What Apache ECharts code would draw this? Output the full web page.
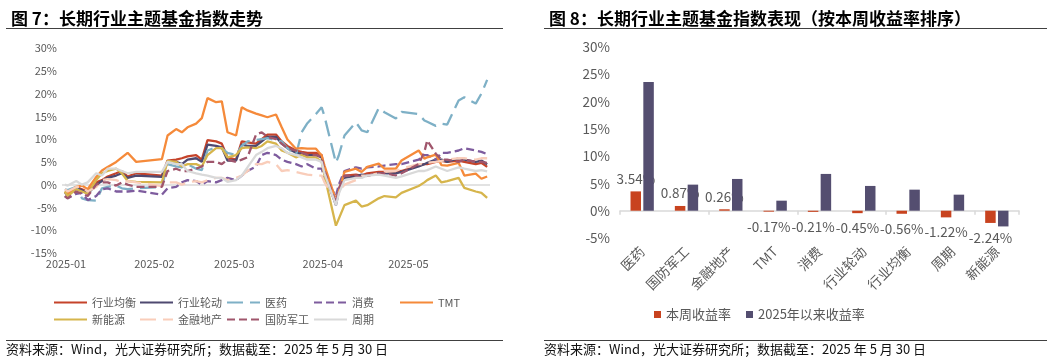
<!DOCTYPE html>
<html>
<head>
<meta charset="utf-8">
<script src="https://cdn.jsdelivr.net/npm/echarts@6/dist/echarts.min.js"></script>
<style>
html,body{margin:0;padding:0;background:#fff;}
#c{width:1055px;height:362px;}
</style>
</head>
<body>
<div id="c"></div>
<script>
// ---------- Figure 7 data ----------
const dates = [
'2025-01-02','2025-01-03','2025-01-06','2025-01-08','2025-01-10','2025-01-13','2025-01-15','2025-01-17','2025-01-20','2025-01-22','2025-01-24','2025-01-27',
'2025-02-05','2025-02-07','2025-02-10','2025-02-12','2025-02-14','2025-02-17','2025-02-19','2025-02-21','2025-02-24','2025-02-26','2025-02-28',
'2025-03-03','2025-03-05','2025-03-07','2025-03-10','2025-03-12','2025-03-14','2025-03-17','2025-03-19','2025-03-21','2025-03-24','2025-03-26','2025-03-28','2025-03-31',
'2025-04-02','2025-04-03','2025-04-07','2025-04-08','2025-04-10','2025-04-14','2025-04-16','2025-04-18','2025-04-22','2025-04-24','2025-04-28','2025-04-30',
'2025-05-06','2025-05-08','2025-05-09','2025-05-12','2025-05-14','2025-05-16','2025-05-20','2025-05-22','2025-05-26','2025-05-28','2025-05-30'
];
const monthTicks = ['2025-01-01','2025-02-01','2025-03-01','2025-04-01','2025-05-01'];
const xRange = ['2025-01-01','2025-05-31'];
const lineNames = ['行业均衡','行业轮动','医药','消费','TMT','新能源','金融地产','国防军工','周期'];

const hyjh = [-1.5,-2.0,-0.5,-1.0,-1.5,0.5,1.0,1.8,2.5,3.0,1.8,2.5,
 2.0,5.3,5.5,5.8,6.2,6.5,5.5,9.8,9.5,9.0,6.0,
 5.5,9.5,9.3,9.0,10.0,11.0,11.0,9.5,8.5,7.5,7.2,7.0,7.0,
 6.5,2.8,-4.0,-1.0,2.0,2.2,2.0,2.5,2.8,2.8,2.8,3.0,
 4.2,4.5,4.5,5.0,5.2,5.0,5.3,5.0,4.5,4.8,3.9];
const hyld = [-1.8,-2.2,-0.8,-1.2,-2.0,0.0,0.8,1.5,2.0,2.5,1.5,2.0,
 1.7,5.0,5.0,4.5,5.5,5.8,5.0,8.8,8.5,8.2,5.3,
 5.3,8.8,8.5,8.5,9.5,10.5,10.5,9.0,8.0,7.0,6.8,6.5,6.5,
 6.0,2.5,-4.5,-1.5,1.5,1.8,2.2,2.0,2.5,2.5,2.5,2.8,
 4.0,4.5,4.8,5.5,5.5,5.0,5.8,5.5,5.0,5.3,4.5];
const yy = [-1.0,-1.2,-0.5,-3.0,-3.4,-3.5,-0.8,-0.5,-0.2,-0.8,-1.0,-0.8,
 -0.5,4.5,4.0,3.8,4.5,3.5,3.2,7.5,8.2,8.0,7.0,
 6.5,8.5,9.5,9.8,10.0,10.2,9.8,9.5,8.0,6.5,11.5,13.5,15.5,
 17.0,15.0,4.8,6.4,10.8,13.7,11.9,11.5,16.8,15.9,14.5,16.0,
 15.5,14.1,13.8,12.9,13.4,13.2,18.5,19.2,17.8,20.0,23.0];
const xf = [-2.5,-3.0,-2.0,-1.8,-3.4,-2.5,-1.0,-0.8,-1.5,-1.5,-1.5,-1.3,
 -2.2,-0.8,-0.5,0.5,1.0,0.8,0.0,0.8,0.5,1.0,1.5,
 1.0,2.0,3.0,4.0,6.5,7.0,6.5,5.5,5.0,4.5,4.0,4.5,3.5,
 3.5,1.5,-2.5,0.0,3.0,3.8,3.5,3.8,4.0,4.2,4.5,4.5,
 5.5,6.5,6.5,5.5,7.0,7.0,7.5,8.0,7.5,7.2,6.7];
const tmt = [-1.6,-2.0,-0.5,-0.2,-1.0,1.7,3.1,3.9,5.0,6.0,7.0,5.0,
 5.6,10.8,12.2,11.5,12.6,13.4,14.6,19.0,18.1,18.3,11.5,
 10.8,17.0,16.3,15.6,15.2,14.8,15.4,12.6,9.9,7.9,8.0,7.9,7.9,
 6.4,4.2,-3.4,-1.6,2.8,3.5,2.8,3.9,4.6,3.5,3.5,5.3,
 7.5,5.7,6.0,6.6,4.3,4.2,4.8,2.0,2.4,1.3,1.8];
const xny = [-1.5,-2.5,-1.0,-1.5,-2.0,1.0,2.5,3.0,3.5,2.5,0.8,0.6,
 0.5,5.2,5.0,4.0,4.5,4.5,4.0,6.5,8.0,8.0,6.0,
 6.5,8.0,8.2,8.0,8.5,9.5,9.0,7.5,7.0,6.0,6.5,6.0,6.0,
 5.0,2.0,-9.0,-7.5,-4.5,-3.5,-4.8,-4.5,-3.0,-2.5,-2.8,-1.8,
 -0.3,0.5,1.0,2.0,0.5,0.8,1.5,-0.7,-1.5,-1.8,-2.9];
const jrdc = [-1.0,-1.5,-0.5,-0.5,-1.5,-0.5,1.0,1.2,1.0,0.5,0.8,0.5,
 -0.3,0.5,0.5,0.0,0.5,0.8,0.5,1.0,1.5,1.5,1.0,
 1.5,2.0,3.0,4.5,4.5,5.0,4.5,3.0,3.2,2.8,2.5,2.2,2.0,
 2.0,0.5,-3.5,-1.5,0.0,1.0,2.0,2.0,2.5,2.8,3.0,3.5,
 4.5,4.5,4.8,5.0,5.2,5.5,5.8,5.8,5.5,5.8,5.8];
const gfjg = [-2.5,-3.0,-1.5,-2.0,-2.5,0.0,0.5,0.5,-0.2,0.5,0.0,-0.5,
 -0.5,3.0,3.5,3.0,3.0,3.5,4.0,5.0,5.0,4.5,5.5,
 5.0,5.5,6.0,11.0,11.5,10.5,10.0,9.0,8.0,7.5,7.0,6.5,6.5,
 6.0,3.0,-4.0,-1.0,2.0,2.0,1.5,2.0,2.5,2.5,2.0,2.5,
 4.5,7.2,9.7,6.8,5.5,5.5,5.0,5.5,5.0,5.0,4.8];
const zq = [0.0,-0.2,0.8,0.0,0.5,2.5,2.0,3.5,3.5,3.0,2.5,2.8,
 2.8,5.0,4.5,4.5,3.0,2.5,2.2,2.0,1.5,1.5,0.6,
 1.0,2.0,3.8,6.5,7.2,8.0,8.5,8.0,7.0,6.5,6.0,5.5,5.5,
 5.0,2.5,-4.5,-2.0,1.0,1.5,1.5,2.0,2.2,2.0,1.5,1.8,
 3.0,3.0,3.2,4.0,3.5,3.0,3.8,3.5,3.0,3.2,2.9];
const lineValues = [hyjh, hyld, yy, xf, tmt, xny, jrdc, gfjg, zq];
const leftYTicks = {min: -15, max: 30, step: 5};

// ---------- Figure 8 data ----------
const barCategories = ['医药','国防军工','金融地产','TMT','消费','行业轮动','行业均衡','周期','新能源'];
const weekReturn = [3.54, 0.87, 0.26, -0.17, -0.21, -0.45, -0.56, -1.22, -2.24];
const ytdReturn = [23.57, 4.78, 5.82, 1.84, 6.74, 4.54, 3.86, 2.94, -2.88];
const barSeriesNames = ['本周收益率', '2025年以来收益率'];
const rightYTicks = {min: -5, max: 30, step: 5};

// ---------- styles ----------
const FONT = "'Noto Sans CJK SC','Noto Sans',sans-serif";
const GRAY = '#595959';
const toTime = s => echarts.number.parseDate(s).getTime();
const pad2 = n => (n < 10 ? '0' : '') + n;
const lineStyles = [
  {color:'#C5432A', type:'solid'},
  {color:'#4E4970', type:'solid'},
  {color:'#7EB0C6', type:[16,7]},
  {color:'#7E5C9E', type:[8,4]},
  {color:'#F58A3A', type:'solid'},
  {color:'#D6B54C', type:'solid'},
  {color:'#F9CDBA', type:[16,7]},
  {color:'#A0566C', type:[8,4]},
  {color:'#D9D9D9', type:'solid'}
];
const legendPos = [[53,297],[139,297],[226,297],[313,297],[399,297],
                   [53,314],[139,314],[226,314],[313,314]];

const lineSeries = lineNames.map((name, i) => {
  const s = {
    name: name, type: 'line', xAxisIndex: 0, yAxisIndex: 0,
    data: dates.map((d, j) => [toTime(d), lineValues[i][j]]),
    showSymbol: false, symbol: 'none', smooth: false,
    lineStyle: {width: 2.3, color: lineStyles[i].color, type: lineStyles[i].type},
    itemStyle: {color: lineStyles[i].color},
    z: 3 + i
  };
  if (i === 0) {
    s.markLine = {silent: true, symbol: ['none','none'], label: {show: false},
      lineStyle: {color: '#D9D9D9', width: 1.5, type: 'solid'},
      data: [{yAxis: 0}], z: 1};
  }
  return s;
});

const legends = lineNames.map((name, i) => ({
  data: [name], left: legendPos[i][0], top: legendPos[i][1], padding: 0,
  itemWidth: 33, itemHeight: 14, selectedMode: false,
  itemStyle: {opacity: 0},
  textStyle: {fontSize: 11, color: GRAY, fontFamily: FONT}
}));
legends.push({
  data: barSeriesNames, left: 654, top: 308, padding: 0, itemWidth: 7, itemHeight: 7,
  itemGap: 15, icon: 'rect', selectedMode: false,
  textStyle: {fontSize: 13, color: GRAY, fontFamily: FONT}
});

const chart = echarts.init(document.getElementById('c'), null, {renderer: 'canvas'});
const option = {
  animation: false,
  backgroundColor: '#fff',
  textStyle: {fontFamily: FONT},
  title: [
    {text: '图 7：长期行业主题基金指数走势', left: 6, top: 5,
     textStyle: {fontSize: 17, fontWeight: 'bold', color: '#000', fontFamily: FONT}},
    {text: '图 8：长期行业主题基金指数表现（按本周收益率排序）', left: 544, top: 5,
     textStyle: {fontSize: 17, fontWeight: 'bold', color: '#000', fontFamily: FONT}},
    {text: '资料来源：Wind，光大证券研究所；数据截至：2025 年 5 月 30 日', left: 6, top: 343, padding: 0,
     textStyle: {fontSize: 13, fontWeight: 'normal', color: '#111', fontFamily: FONT}},
    {text: '资料来源：Wind，光大证券研究所；数据截至：2025 年 5 月 30 日', left: 544, top: 343, padding: 0,
     textStyle: {fontSize: 13, fontWeight: 'normal', color: '#111', fontFamily: FONT}}
  ],
  graphic: [
    {type:'line', shape:{x1:6,y1:28.5,x2:503,y2:28.5}, style:{stroke:'#404040', lineWidth:1}},
    {type:'line', shape:{x1:544,y1:28.5,x2:1047,y2:28.5}, style:{stroke:'#404040', lineWidth:1}},
    {type:'line', shape:{x1:6,y1:340.5,x2:503,y2:340.5}, style:{stroke:'#404040', lineWidth:1}},
    {type:'line', shape:{x1:544,y1:340.5,x2:1047,y2:340.5}, style:{stroke:'#404040', lineWidth:1}}
  ],
  legend: legends,
  grid: [
    {left: 62, top: 48, width: 428, height: 205, containLabel: false},
    {left: 620, top: 47, width: 399, height: 191, containLabel: false}
  ],
  xAxis: [
    {type: 'value', gridIndex: 0, min: toTime(xRange[0]), max: toTime(xRange[1]),
     axisLine: {show: false, onZero: false}, axisTick: {show: false}, splitLine: {show: false},
     axisLabel: {color: GRAY, fontSize: 11, margin: 5, padding: [0,0,0,8],
       showMinLabel: true, showMaxLabel: true, hideOverlap: false,
       customValues: monthTicks.map(toTime),
       formatter: function (v) { const d = new Date(v); return d.getFullYear() + '-' + pad2(d.getMonth() + 1); }}},
    {type: 'category', gridIndex: 1, data: barCategories, position: 'bottom',
     axisLine: {show: true, onZero: true, lineStyle: {color: '#D9D9D9', width: 1.5}},
     axisTick: {show: true, length: 4, lineStyle: {color: '#D9D9D9', width: 1.5}},
     axisLabel: {show: false}, splitLine: {show: false}},
    {type: 'category', gridIndex: 1, data: barCategories, position: 'bottom',
     axisLine: {show: false, onZero: false}, axisTick: {show: false},
     axisLabel: {show: true, rotate: 45, interval: 0, margin: 11, fontSize: 13.5, color: GRAY}}
  ],
  yAxis: [
    {type: 'value', gridIndex: 0, min: leftYTicks.min, max: leftYTicks.max, interval: leftYTicks.step,
     axisLine: {show: false}, axisTick: {show: false}, splitLine: {show: false},
     axisLabel: {color: GRAY, fontSize: 11, margin: 5, formatter: '{value}%'}},
    {type: 'value', gridIndex: 1, min: rightYTicks.min, max: rightYTicks.max, interval: rightYTicks.step,
     axisLine: {show: false}, axisTick: {show: false}, splitLine: {show: false},
     axisLabel: {color: GRAY, fontSize: 13.5, margin: 10, formatter: '{value}%'}}
  ],
  series: lineSeries.concat([
    {name: barSeriesNames[0], type: 'bar', xAxisIndex: 2, yAxisIndex: 1,
     barWidth: 10.5, barGap: '22%', z: 2,
     itemStyle: {color: '#C8431F'},
     data: weekReturn.map(v => ({value: v,
       label: {show: true, position: v >= 0 ? 'top' : 'bottom', distance: v >= 0 ? 6 : 8}})),
     label: {show: true, color: GRAY, fontSize: 13.5, fontFamily: FONT,
       formatter: p => p.value.toFixed(2) + '%'}},
    {name: barSeriesNames[1], type: 'bar', xAxisIndex: 2, yAxisIndex: 1,
     barWidth: 10.5, barGap: '22%', z: 4,
     itemStyle: {color: '#544E70'},
     data: ytdReturn}
  ])
};
chart.setOption(option);
</script>
</body>
</html>
